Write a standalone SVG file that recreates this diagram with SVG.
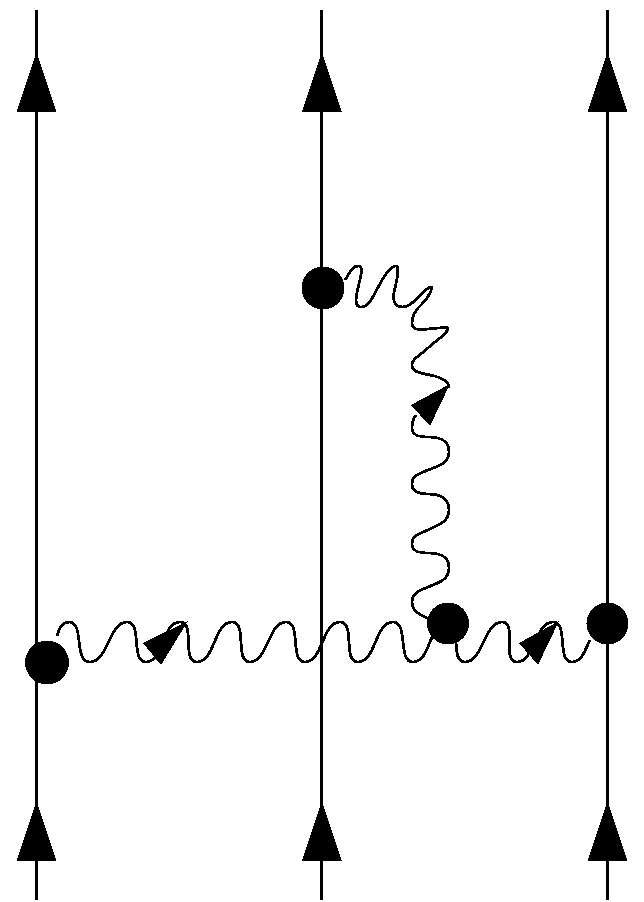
<svg xmlns="http://www.w3.org/2000/svg" width="644" height="902" viewBox="0 0 644 902">
<style>
.line{stroke:#000;stroke-width:3;fill:none}
.wave{stroke:#000;stroke-width:2.8;fill:none;stroke-linejoin:round}
.fill{fill:#000;stroke:none}
</style>
<defs>
<polygon id="up" class="fill" points="0,0 20,60 -20,60"/>
</defs>
<rect width="644" height="902" fill="#fff"/>
<g id="connectors" shape-rendering="crispEdges">
<line class="line" x1="36.5" y1="10" x2="36.5" y2="900"/>
<line class="line" x1="321.5" y1="10" x2="321.5" y2="900"/>
<line class="line" x1="607.5" y1="10" x2="607.5" y2="900"/>
<path class="wave" d="M57 636C59 628 62 622 69 622C85 622 73 662 90 662C108 662 109 622 127 622C143 622 130 662 146 662C164 662 162 622 180 622C196 622 181 662 197 662C215 662 214 622 232 622C248 622 234 662 250 662C268 662 268 622 286 622C302 622 289 662 305 662C323 662 322 622 340 622C356 622 342 662 358 662C376 662 375 622 393 622C409 622 397 662 413 662C431 662 429 622 447 622C463 622 449 662 465 662C483 662 484 622 502 622C518 622 501 662 517 662C535 662 535 622 553 622C569 622 556 662 572 662C582 662 585 650 590 640"/>
<path class="wave" d="M345 280C350 272 353 266 358 266C364 266 361 275 358 288C355 300 355 307 361 307C370 307 375 292 381 282C386 273 391 266 396 266C400 266 397 280 394 292C392 302 396 307 403 307C414 307 424 287 431 287C433 287 430 296 422 304C415 310 412 317 412 323C412 330 418 330 428 329C438 328 448 327 448 328C448 334 436 340 428 348C420 356 412 358 412 365C412 372 420 373 430 375C440 377 449 381 449 388"/>
<path class="wave" d="M416 415C412 420 412 424 412 428C412 436 420 437 428 437C440 437 449 440 449 452C449 464 438 466 428 470C418 474 412 476 412 484C412 492 420 494 428 494C440 494 449 498 449 510C449 522 438 525 428 530C418 534 412 536 412 544C412 552 420 553 428 553C440 553 449 556 449 568C449 580 438 583 428 587C418 591 412 594 412 602C412 610 418 615 432 620"/>
</g>
<g id="arrow-top-left" shape-rendering="crispEdges"><use href="#up" x="36.5" y="52"/></g>
<g id="arrow-top-mid" shape-rendering="crispEdges"><use href="#up" x="322" y="52"/></g>
<g id="arrow-top-right" shape-rendering="crispEdges"><use href="#up" x="607.5" y="52"/></g>
<g id="arrow-bottom-left" shape-rendering="crispEdges"><use href="#up" x="36.5" y="801"/></g>
<g id="arrow-bottom-mid" shape-rendering="crispEdges"><use href="#up" x="322" y="801"/></g>
<g id="arrow-bottom-right" shape-rendering="crispEdges"><use href="#up" x="607.5" y="801"/></g>
<g id="arrow-wave-left" shape-rendering="crispEdges"><polygon class="fill" points="188,621 143,643 161,665"/></g>
<g id="arrow-wave-right" shape-rendering="crispEdges"><polygon class="fill" points="559,621 519,643 538,665"/></g>
<g id="arrow-wave-vertical" shape-rendering="crispEdges"><polygon class="fill" points="450,384 411,405 430,426"/></g>
<g id="vertex-top" shape-rendering="crispEdges"><circle class="fill" cx="323" cy="288" r="21.5"/></g>
<g id="vertex-left" shape-rendering="crispEdges"><circle class="fill" cx="47" cy="662.5" r="22"/></g>
<g id="vertex-mid" shape-rendering="crispEdges"><circle class="fill" cx="448" cy="623.5" r="21"/></g>
<g id="vertex-right" shape-rendering="crispEdges"><circle class="fill" cx="607.5" cy="623.5" r="21"/></g>
</svg>
